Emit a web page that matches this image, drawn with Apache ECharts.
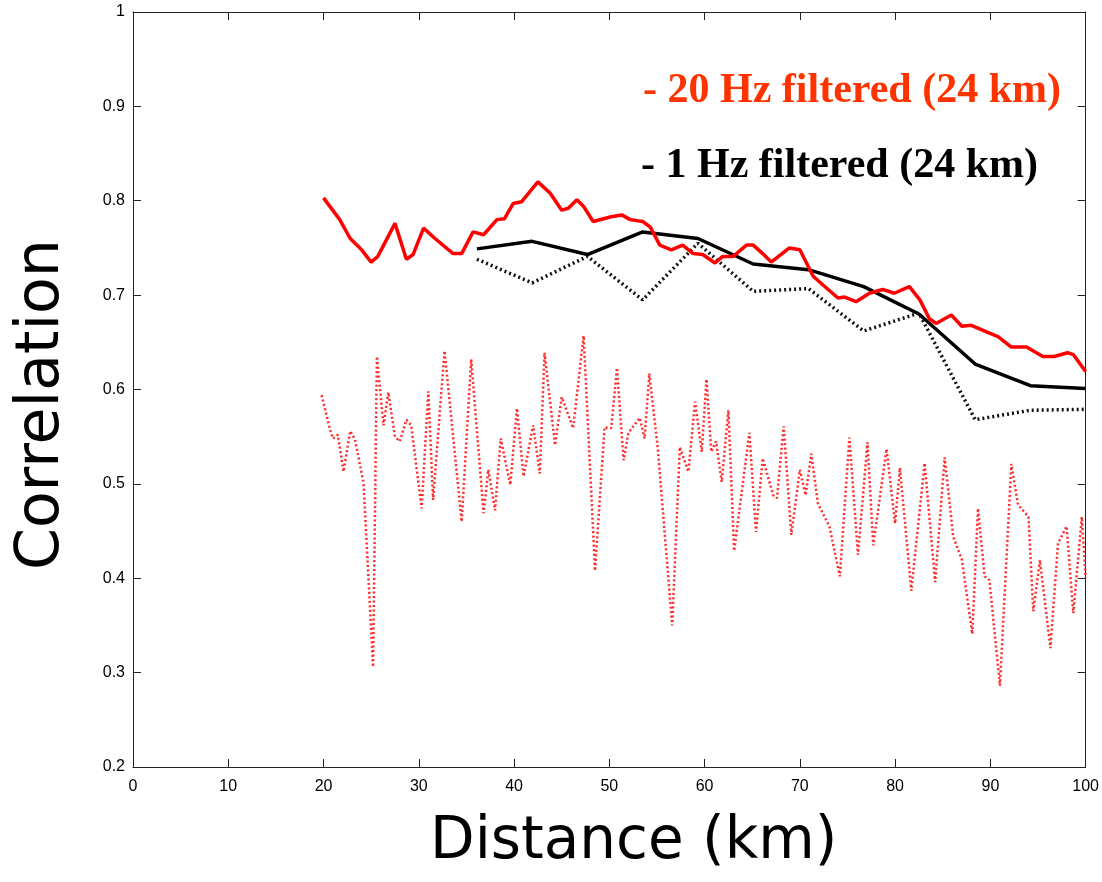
<!DOCTYPE html>
<html>
<head>
<meta charset="utf-8">
<script src="https://cdn.jsdelivr.net/npm/echarts@6/dist/echarts.min.js"></script>
<style>
html,body{margin:0;padding:0;background:#fff;}
#chart{width:1102px;height:882px;}
</style>
</head>
<body>
<div id="chart"></div>
<script>
// ---- data ----
var xTicks = [0, 10, 20, 30, 40, 50, 60, 70, 80, 90, 100];
var yTicks = [0.2, 0.3, 0.4, 0.5, 0.6, 0.7, 0.8, 0.9, 1];

var red20Solid = [
  [20.0,0.803],[21.7,0.780],[22.8,0.760],[24.0,0.748],[25.0,0.735],[25.7,0.741],
  [27.5,0.776],[28.7,0.738],[29.4,0.743],[30.5,0.771],[31.7,0.760],[33.6,0.744],
  [34.5,0.744],[35.7,0.767],[36.8,0.764],[38.2,0.780],[39.0,0.781],[39.9,0.797],
  [40.8,0.799],[42.5,0.820],[43.8,0.808],[45.0,0.790],[45.7,0.792],[46.6,0.801],
  [47.3,0.794],[48.3,0.778],[50.2,0.783],[51.3,0.785],[52.2,0.780],[53.5,0.778],
  [54.3,0.772],[55.3,0.753],[56.5,0.748],[57.7,0.753],[58.8,0.744],[59.8,0.743],
  [61.1,0.734],[61.9,0.741],[63.0,0.741],[64.4,0.753],[65.1,0.753],[66.1,0.744],
  [67.0,0.735],[68.9,0.750],[70.0,0.748],[71.4,0.720],[72.4,0.711],[74.0,0.697],
  [74.7,0.698],[75.9,0.693],[77.3,0.702],[78.7,0.706],[79.9,0.702],[81.5,0.709],
  [82.6,0.695],[83.6,0.675],[84.3,0.670],[85.9,0.679],[87.0,0.667],[88.0,0.668],
  [89.6,0.661],[90.8,0.656],[92.2,0.645],[93.8,0.645],[95.5,0.635],[96.7,0.635],
  [98.1,0.639],[98.7,0.637],[100,0.619]
];

var red20Dotted = [
  [19.8,0.594],[20.7,0.557],[21.0,0.548],[21.5,0.552],[22.1,0.513],[22.8,0.556],
  [23.3,0.547],[24.2,0.501],[25.2,0.306],[25.6,0.635],[26.3,0.562],[26.8,0.597],
  [27.5,0.550],[28.0,0.545],[28.7,0.568],[29.2,0.562],[30.3,0.474],[31.0,0.598],
  [31.5,0.483],[32.7,0.641],[34.5,0.460],[35.5,0.632],[36.8,0.469],[37.3,0.515],
  [38.0,0.472],[38.6,0.548],[39.6,0.499],[40.3,0.580],[41.0,0.508],[42.0,0.562],
  [42.7,0.511],[43.2,0.639],[44.3,0.541],[45.0,0.592],[46.2,0.559],[47.3,0.657],
  [48.5,0.408],[49.5,0.560],[50.2,0.559],[50.8,0.623],[51.5,0.525],[52.0,0.554],
  [53.2,0.570],[53.7,0.548],[54.2,0.617],[55.1,0.536],[56.6,0.350],[57.4,0.539],
  [58.3,0.513],[59.0,0.587],[59.7,0.534],[60.2,0.611],[60.7,0.534],[61.2,0.545],
  [61.8,0.502],[62.5,0.578],[63.1,0.429],[64.7,0.554],[65.4,0.449],[66.1,0.527],
  [67.2,0.488],[67.6,0.485],[68.3,0.561],[69.1,0.446],[70.0,0.515],[70.6,0.488],
  [71.2,0.532],[71.9,0.479],[73.1,0.455],[74.2,0.402],[75.2,0.549],[76.1,0.425],
  [77.1,0.544],[77.7,0.435],[79.1,0.537],[80.0,0.458],[80.5,0.517],[81.7,0.387],
  [83.1,0.522],[84.2,0.396],[85.2,0.528],[86.1,0.444],[87.0,0.420],[88.1,0.341],
  [88.7,0.474],[89.4,0.402],[89.9,0.398],[91.0,0.286],[92.2,0.521],[92.9,0.478],
  [94.0,0.465],[94.5,0.365],[95.2,0.419],[96.3,0.326],[97.1,0.437],[98.0,0.455],
  [98.7,0.363],[99.6,0.465],[100,0.400]
];

var black1Solid = [
  [36.1,0.749],[41.9,0.757],[47.7,0.743],[53.5,0.767],[59.3,0.760],[65.1,0.733],
  [70.9,0.727],[76.7,0.709],[82.5,0.680],[88.4,0.627],[94.2,0.604],[100,0.601]
];

var black1Dotted = [
  [36.1,0.738],[41.9,0.713],[47.7,0.741],[53.5,0.695],[59.3,0.755],[65.1,0.704],
  [70.9,0.707],[76.7,0.662],[82.5,0.681],[88.4,0.568],[94.2,0.578],[100,0.579]
];

var legendLines = ['- 20 Hz filtered (24 km)', '- 1 Hz filtered (24 km)'];
var xTitle = 'Distance (km)';
var yTitle = 'Correlation';

// ---- chart ----
var chart = echarts.init(document.getElementById('chart'), null, {renderer: 'canvas'});
var axisColor = '#222';
var tickFont = {fontFamily: 'Liberation Sans, Arial, sans-serif', fontSize: 16, color: '#000'};

var option = {
  backgroundColor: '#fff',
  animation: false,
  grid: {left: 133, right: 16, top: 12, bottom: 115},
  xAxis: [{
    type: 'value', min: xTicks[0], max: xTicks[xTicks.length - 1], interval: 10,
    axisLine: {show: true, lineStyle: {color: axisColor, width: 1}},
    axisTick: {show: true, inside: true, length: 8, lineStyle: {color: axisColor}},
    axisLabel: Object.assign({margin: 12}, tickFont),
    splitLine: {show: false}
  }, {
    type: 'value', position: 'top', min: xTicks[0], max: xTicks[xTicks.length - 1], interval: 10,
    axisLine: {show: true, onZero: false, lineStyle: {color: axisColor, width: 1}},
    axisTick: {show: true, inside: true, length: 8, lineStyle: {color: axisColor}},
    axisLabel: {show: false}, splitLine: {show: false}
  }],
  yAxis: [{
    type: 'value', min: yTicks[0], max: yTicks[yTicks.length - 1], interval: 0.1,
    axisLine: {show: true, lineStyle: {color: axisColor, width: 1}},
    axisTick: {show: true, inside: true, length: 8, lineStyle: {color: axisColor}},
    axisLabel: Object.assign({margin: 8, formatter: function (v) { return String(+v.toFixed(1)); }}, tickFont),
    splitLine: {show: false}
  }, {
    type: 'value', position: 'right', min: yTicks[0], max: yTicks[yTicks.length - 1], interval: 0.1,
    axisLine: {show: true, onZero: false, lineStyle: {color: axisColor, width: 1}},
    axisTick: {show: true, inside: true, length: 8, lineStyle: {color: axisColor}},
    axisLabel: {show: false}, splitLine: {show: false}
  }],
  series: [
    {
      name: '20 Hz dotted', type: 'line', data: red20Dotted, showSymbol: false, smooth: false,
      lineStyle: {color: '#ff2a2a', width: 2.5, type: [2, 2.5]}, z: 2
    },
    {
      name: '1 Hz dotted', type: 'line', data: black1Dotted, showSymbol: false,
      lineStyle: {color: '#111', width: 3.5, type: [2, 3]}, z: 3
    },
    {
      name: '1 Hz solid', type: 'line', data: black1Solid, showSymbol: false,
      lineStyle: {color: '#000', width: 3.5}, z: 4
    },
    {
      name: '20 Hz solid', type: 'line', data: red20Solid, showSymbol: false,
      lineStyle: {color: '#ff0000', width: 3.5}, z: 5
    }
  ],
  graphic: [
    {
      type: 'text', x: 1061, y: 70,
      style: {text: legendLines[0], fill: '#ff3300', textAlign: 'right',
              font: 'bold 42px "Liberation Serif", "Times New Roman", serif'}
    },
    {
      type: 'text', x: 1038, y: 145,
      style: {text: legendLines[1], fill: '#000', textAlign: 'right',
              font: 'bold 42px "Liberation Serif", "Times New Roman", serif'}
    },
    {
      type: 'text', left: 430, top: 814,
      style: {text: xTitle, fill: '#000', font: '58px "DejaVu Sans", sans-serif'}
    },
    {
      type: 'text', x: 12, y: 570, rotation: Math.PI / 2,
      style: {text: yTitle, fill: '#000', font: '60px "DejaVu Sans", sans-serif'}
    }
  ]
};
chart.setOption(option);
</script>
</body>
</html>
